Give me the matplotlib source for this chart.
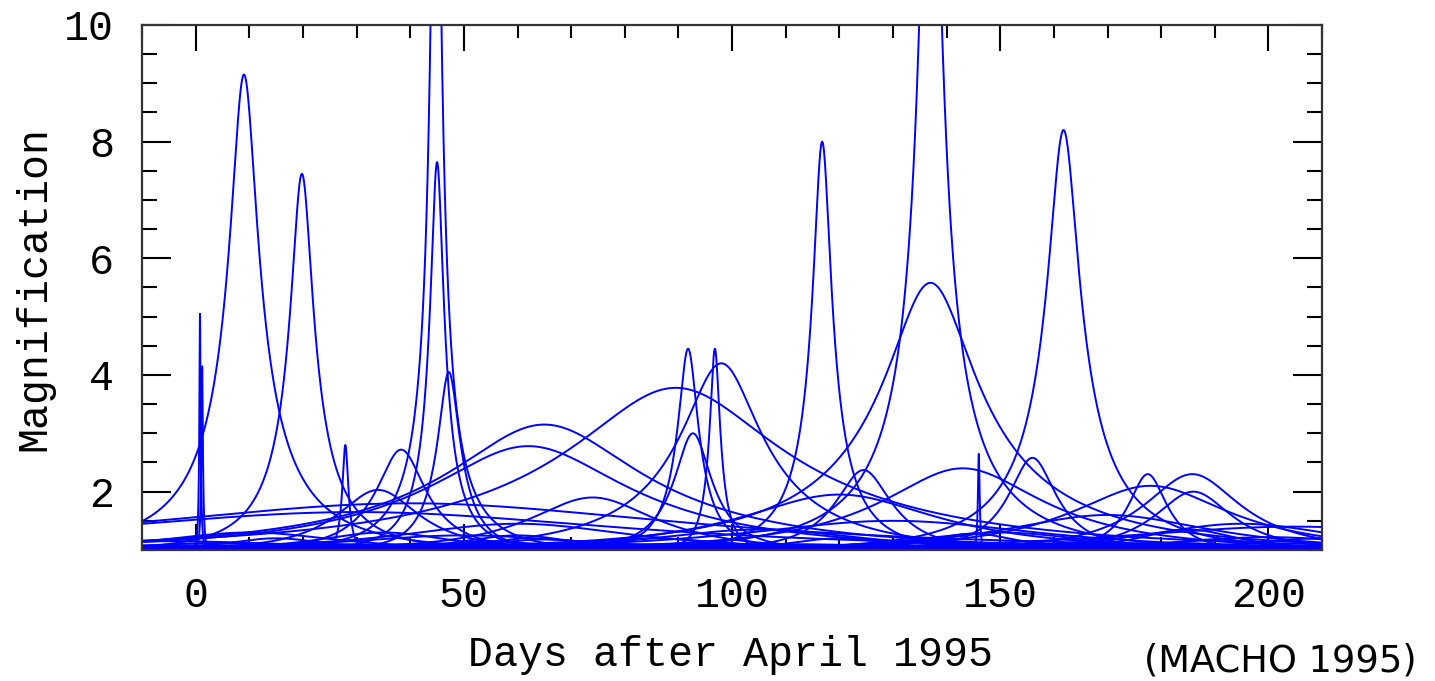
import numpy as np
import matplotlib
matplotlib.use('Agg')
import matplotlib.pyplot as plt
from matplotlib.ticker import MultipleLocator

# microlensing events: peak day, peak magnification, time scale (days)
peak_day = [9.0, 19.8, 0.8, 1.2, 27.9, 38.3, 44.8, 45.0, 47.2,
            65.0, 62.0, 74.0, 89.5, 91.8, 96.8, 98.0, 92.7,
            116.8, 124.5, 137.0, 137.0, 161.8, 143.0, 146.0, 156.0,
            177.5, 178.0, 185.8, 186.0, 34.0, 120.0, 40.0, 30.0]
peak_mag = [9.15, 7.45, 5.05, 4.15, 2.8, 2.72, 16.0, 7.65, 4.05,
            3.15, 2.78, 1.9, 3.78, 4.45, 4.45, 4.2, 3.0,
            8.0, 2.37, 16.0, 5.58, 8.2, 2.4, 2.65, 2.58,
            2.3, 2.1, 2.3, 2.0, 2.03, 1.95, 1.8, 1.65]
t_scale = [23, 15, 0.5, 0.5, 1.5, 12, 13, 9, 8,
           55, 50, 22, 72, 8, 4, 30, 10,
           13, 12, 27, 46, 23, 35, 0.4, 11,
           8, 30, 20, 14, 15, 35, 90, 80]

# weaker events crowding the baseline
low_day = [60, 105, 130, 170, 195, 10, 50, 85, 150, 205,
           5, 25, 55, 70, 95, 110, 135, 160, 180, -5,
           120, 65, 190, 40, 15, 100, 75, 140, 210, 30,
           20, 45, 80, 125, 155, 175, 0, 90, 115, 165,
           35, 60, 145, 185, 200,
           10, 50, 90, 130, 170, 210, 30, 70, 110, 150, 190, -10]
low_mag = [1.45, 1.35, 1.5, 1.6, 1.45, 1.3, 1.25, 1.2, 1.3, 1.4,
           1.12, 1.1, 1.15, 1.08, 1.12, 1.1, 1.14, 1.1, 1.12, 1.15,
           1.2, 1.18, 1.18, 1.1, 1.2, 1.06, 1.09, 1.07, 1.2, 1.05,
           1.08, 1.06, 1.1, 1.07, 1.09, 1.06, 1.08, 1.05, 1.07, 1.1,
           1.3, 1.25, 1.28, 1.35, 1.22,
           1.04, 1.05, 1.04, 1.05, 1.04, 1.05, 1.03, 1.04, 1.03, 1.04, 1.03, 1.05]
low_scale = [30, 25, 40, 30, 25, 20, 25, 15, 20, 45,
             15, 20, 10, 30, 12, 20, 15, 25, 18, 25,
             10, 12, 10, 8, 10, 40, 20, 30, 15, 25,
             40, 30, 35, 40, 30, 40, 30, 45, 35, 30,
             15, 12, 10, 12, 20,
             60, 60, 60, 60, 60, 60, 60, 60, 60, 60, 60, 60]


def lightcurve(t, t0, amax, te):
    # point lens magnification; impact parameter from the peak value
    u0 = np.sqrt(2.0 * (amax / np.sqrt(amax**2 - 1.0) - 1.0))
    u = np.sqrt(u0**2 + ((t - t0) / te)**2)
    return (u**2 + 2.0) / (u * np.sqrt(u**2 + 4.0))


t = np.linspace(-10, 210, 12000)

fig = plt.figure(figsize=(14.35, 6.81), dpi=100)
ax = fig.add_axes([0.099, 0.1924, 0.8223, 0.7709])

for t0, a, te in zip(low_day + peak_day, low_mag + peak_mag, low_scale + t_scale):
    ax.plot(t, lightcurve(t, t0, a, te), color='#0000ff', lw=1.4)

ax.set_xlim(-10, 210)
ax.set_ylim(1, 10)
ax.set_xticks([0, 50, 100, 150, 200])
ax.set_yticks([2, 4, 6, 8, 10])
ax.xaxis.set_minor_locator(MultipleLocator(10))
ax.yaxis.set_minor_locator(MultipleLocator(0.5))

mono = 'Liberation Mono'
ax.tick_params(which='both', direction='in', top=True, right=True,
               color='black', width=1.5)
ax.tick_params(axis='x', which='major', length=19, pad=19)
ax.tick_params(axis='x', which='minor', length=9.5)
ax.tick_params(axis='y', which='major', length=21, pad=20)
ax.tick_params(axis='y', which='minor', length=10.5)
for lab in ax.get_xticklabels() + ax.get_yticklabels():
    lab.set_family(mono)
    lab.set_fontsize(30)
for sp in ax.spines.values():
    sp.set_linewidth(1.6)
    sp.set_color('#333333')

fig.text(0.509, 0.038, 'Days after April 1995', family=mono, fontsize=30,
         ha='center', va='center')
fig.text(0.024, 0.577, 'Magnification', family=mono, fontsize=30,
         rotation=90, ha='center', va='center')
fig.text(0.892, 0.03, '(MACHO 1995)', family='DejaVu Sans', fontsize=26.5,
         ha='center', va='center')

fig.savefig('out.png', dpi=100)
